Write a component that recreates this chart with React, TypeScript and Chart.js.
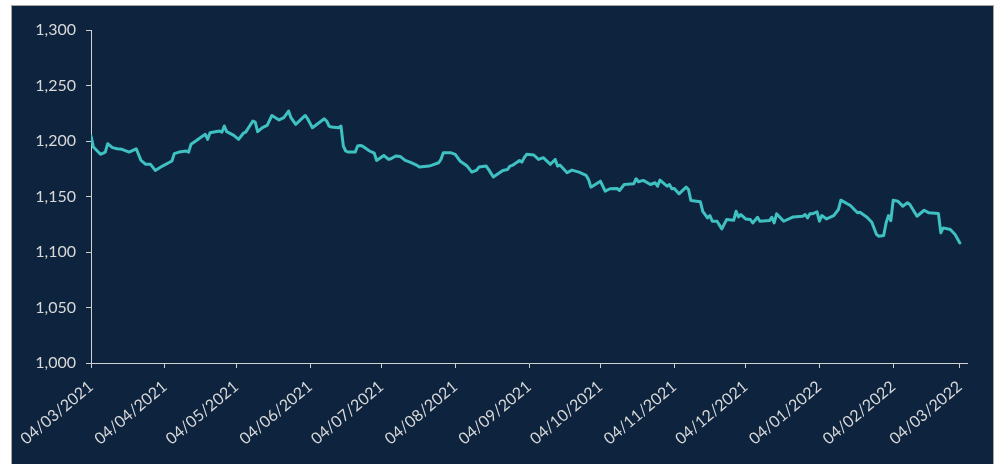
import React, { useEffect, useRef } from "react";
import { Chart, registerables } from "chart.js";

Chart.register(...registerables);

// ---- data ----
const startDate = "04/03/2021";
const tickLabels = [
  "04/03/2021", "04/04/2021", "04/05/2021", "04/06/2021", "04/07/2021",
  "04/08/2021", "04/09/2021", "04/10/2021", "04/11/2021", "04/12/2021",
  "04/01/2022", "04/02/2022", "04/03/2022",
];
// days since startDate
const dayOffsets = [
  0, 1, 4, 6, 7, 9, 11, 13, 16, 19, 21, 23, 25, 27, 30, 34, 35, 37, 40, 41, 42, 44, 48, 49, 50,
  54, 55, 56, 57, 60, 62, 64, 65, 68, 69, 70, 72, 74, 76, 79, 81, 83, 84, 86, 90, 91, 93, 98, 99,
  100, 101, 104, 105, 106, 107, 108, 111, 112, 113, 114, 117, 119, 120, 123, 125, 126, 128, 130,
  132, 134, 137, 138, 142, 143, 146, 147, 148, 151, 153, 155, 158, 160, 162, 163, 166, 167, 169,
  173, 175, 176, 177, 180, 181, 182, 183, 186, 188, 190, 193, 195, 196, 197, 200, 202, 205, 208,
  209, 210, 214, 216, 218, 221, 222, 224, 228, 229, 230, 232, 235, 237, 238, 239, 242, 243, 244,
  245, 247, 250, 251, 252, 256, 257, 259, 260, 261, 263, 265, 267, 270, 271, 272, 273, 275, 277,
  278, 280, 281, 285, 286, 287, 288, 291, 295, 299, 300, 301, 302, 303, 305, 306, 307, 309, 312,
  314, 315, 319, 322, 323, 326, 328, 330, 331, 333, 334, 335, 336, 337, 339, 341, 343, 344, 347,
  350, 352, 356, 357, 358, 361, 363, 365,
];
const values = [
  1204.5, 1194.6, 1188, 1190, 1197.6, 1194, 1193, 1192.5, 1190, 1193, 1182.5, 1179, 1179, 1173.5,
  1177.4, 1182, 1188.6, 1190, 1191, 1190, 1197, 1200, 1206, 1201.5, 1207.5,
  1209, 1208, 1213.5, 1208.4, 1205, 1201.5, 1207, 1208, 1218, 1217, 1208.4, 1212, 1214, 1223,
  1219, 1221, 1227, 1221, 1215, 1223, 1220, 1212, 1220, 1218,
  1213.5, 1212.6, 1212, 1213.5, 1195.5, 1191, 1190, 1190, 1195.5, 1196, 1195.5, 1191, 1189,
  1182.5, 1187, 1183.4, 1184, 1186.5, 1186,
  1182.5, 1181, 1178, 1176.5, 1177.4, 1178, 1180.4, 1183.4, 1189.5, 1189.5, 1188, 1182, 1177.4,
  1172, 1173.8, 1176.5, 1177.4, 1174.4, 1167.5,
  1173.5, 1174.4, 1177.4, 1178, 1182.5, 1181, 1185, 1188, 1187.4, 1183.4, 1185, 1179, 1183.4,
  1177.4, 1178.3, 1171.4, 1173.8, 1172, 1169,
  1165.4, 1158.4, 1163.8, 1154.8, 1157, 1157.2, 1155.4, 1160.8, 1161.5, 1166, 1163.3, 1164.5,
  1160.8, 1162.4, 1159.3, 1164.8, 1159.3, 1160.8, 1157,
  1157.2, 1152.4, 1158.4, 1156.3, 1146.4, 1145.2, 1136.7, 1130.7, 1132.8, 1127.7, 1127.7, 1120.8,
  1129.2, 1128.6, 1136.7, 1131.6, 1133.7, 1129.8, 1129.2,
  1126.2, 1131.3, 1127.7, 1128.3, 1131.3, 1126.2, 1134.4, 1127.7, 1131.6, 1132.2, 1133.7, 1130.7,
  1134.4, 1134.4, 1136.2, 1127.7, 1132.8, 1129.8, 1132.8,
  1138.3, 1146.7, 1141.9, 1135.3, 1135.8, 1131.3, 1126.8, 1115.7, 1114.2, 1114.8, 1126.2, 1132.8,
  1128.3, 1146.7, 1145.8, 1141.3, 1144.3, 1142.8, 1132.2,
  1137.6, 1135.3, 1134.6, 1117.2, 1121.7, 1120.2, 1115.7, 1108.2,
];
const yTicks = [1000, 1050, 1100, 1150, 1200, 1250, 1300];

// ---- helpers ----
const DAY_MS = 86400000;
function parseDMY(s: string): number {
  const [d, m, y] = s.split("/").map(Number);
  return Date.UTC(y, m - 1, d);
}
const tickOffsets = tickLabels.map((l) =>
  Math.round((parseDMY(l) - parseDMY(startDate)) / DAY_MS)
);
const labelByOffset: Record<number, string> = {};
tickOffsets.forEach((o, i) => (labelByOffset[o] = tickLabels[i]));

const TEXT = "#d9d9d9";
const AXIS = "#d0d0d0";
const FONT = { family: "Lato, 'Open Sans', sans-serif", size: 16 };

export default function App() {
  const ref = useRef<HTMLCanvasElement | null>(null);

  useEffect(() => {
    if (!ref.current) return;
    const chart = new Chart(ref.current, {
      type: "line",
      data: {
        datasets: [
          {
            data: dayOffsets.map((d, i) => ({ x: d, y: values[i] })),
            borderColor: "#3fc1c1",
            borderWidth: 3,
            pointRadius: 0,
            tension: 0,
            borderJoinStyle: "round",
            borderCapStyle: "round",
          },
        ],
      },
      options: {
        responsive: false,
        animation: false,
        devicePixelRatio: 1,
        plugins: { legend: { display: false }, tooltip: { enabled: false } },
        layout: { padding: { top: 25, right: 27, left: 0, bottom: 0 } },
        scales: {
          x: {
            type: "linear",
            min: 0,
            max: 368,
            afterBuildTicks: (scale: any) => {
              scale.ticks = tickOffsets.map((v) => ({ value: v }));
            },
            afterFit: (scale: any) => {
              scale.height = 101;
            },
            ticks: {
              autoSkip: false,
              minRotation: 40,
              maxRotation: 40,
              color: TEXT,
              font: FONT,
              padding: 9,
              callback: (v: any) => labelByOffset[v as number] ?? "",
            },
            grid: {
              drawOnChartArea: false,
              drawTicks: true,
              tickLength: 5,
              color: AXIS,
            },
            border: { color: AXIS, width: 1 },
          },
          y: {
            min: 1000,
            max: 1300,
            afterBuildTicks: (scale: any) => {
              scale.ticks = yTicks.map((v) => ({ value: v }));
            },
            afterFit: (scale: any) => {
              scale.width = 80;
            },
            ticks: {
              color: TEXT,
              font: FONT,
              padding: 10,
              callback: (v: any) => Number(v).toLocaleString("en-US"),
            },
            grid: {
              drawOnChartArea: false,
              drawTicks: true,
              tickLength: 5,
              color: AXIS,
            },
            border: { color: AXIS, width: 1 },
          },
        },
      },
    } as any);
    return () => chart.destroy();
  }, []);

  return (
    <div
      style={{
        position: "fixed",
        left: 0,
        top: 0,
        width: 1000,
        height: 464,
        background: "#ffffff",
        overflow: "hidden",
      }}
    >
      <div
        style={{
          position: "absolute",
          left: 11,
          top: 5,
          width: 983,
          height: 470,
          boxSizing: "border-box",
          background: "#0d233e",
          borderTop: "1px solid #a6a6a6",
          borderLeft: "1px solid #a6a6a6",
          borderRight: "1px solid #a6a6a6",
        }}
      />
      <canvas
        ref={ref}
        width={983}
        height={459}
        style={{ position: "absolute", left: 11, top: 5, width: 983, height: 459 }}
      />
    </div>
  );
}
